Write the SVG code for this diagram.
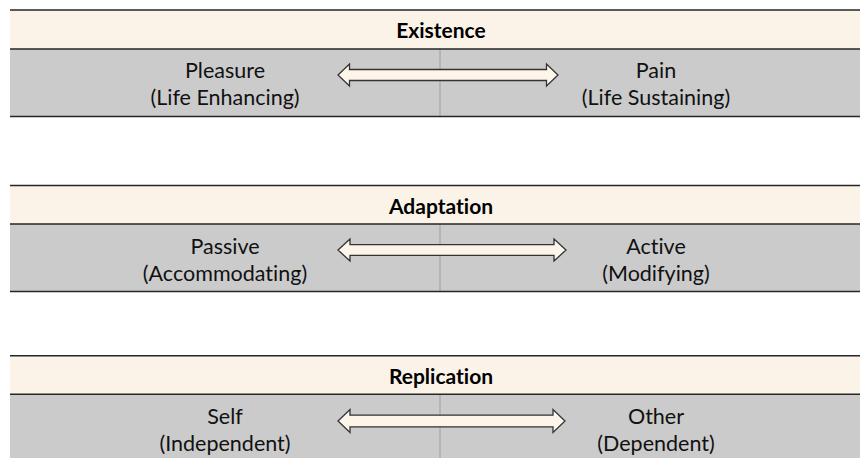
<svg xmlns="http://www.w3.org/2000/svg" width="860" height="458" viewBox="0 0 860 458">
  <style>
    .head { fill: #FCF3E8; }
    .body { fill: #CBCBCB; }
    .rule { stroke: #262626; stroke-width: 1.6; fill: none; }
    .split { stroke: #9E9E9E; stroke-width: 1; }
    .arrow { fill: #FDF5EA; stroke: #333333; stroke-width: 1.3; stroke-linejoin: miter; }
    text { font-family: Lato, "Liberation Sans", sans-serif; text-anchor: middle; font-variant-ligatures: none; }
    .title { font-weight: bold; font-size: 21px; fill: #000; }
    .label { font-size: 21.5px; fill: #111; }
  </style>

  <!-- Existence -->
  <g id="existence">
    <rect class="head" x="10" y="10" width="862" height="39"/>
    <rect class="body" x="10" y="49" width="862" height="67.5"/>
    <line class="split" x1="440" y1="49" x2="440" y2="116.5"/>
    <line class="rule" x1="10" y1="10" x2="872" y2="10"/>
    <line class="rule" x1="10" y1="49" x2="872" y2="49"/>
    <line class="rule" x1="10" y1="116.5" x2="872" y2="116.5"/>
    <text class="title" x="441" y="38">Existence</text>
    <text class="label" x="225" y="78">Pleasure</text>
    <text class="label" x="225" y="105">(Life Enhancing)</text>
    <text class="label" x="656" y="78">Pain</text>
    <text class="label" x="656" y="105">(Life Sustaining)</text>
  </g>

  <!-- Adaptation -->
  <g id="adaptation">
    <rect class="head" x="10" y="185.5" width="862" height="38.5"/>
    <rect class="body" x="10" y="224" width="862" height="67.5"/>
    <line class="split" x1="440" y1="224" x2="440" y2="291.5"/>
    <line class="rule" x1="10" y1="185.5" x2="872" y2="185.5"/>
    <line class="rule" x1="10" y1="224" x2="872" y2="224"/>
    <line class="rule" x1="10" y1="291.5" x2="872" y2="291.5"/>
    <text class="title" x="441" y="213.5">Adaptation</text>
    <text class="label" x="225" y="253.5">Passive</text>
    <text class="label" x="225" y="280.5">(Accommodating)</text>
    <text class="label" x="656" y="253.5">Active</text>
    <text class="label" x="656" y="280.5">(Modifying)</text>
  </g>

  <!-- Replication -->
  <g id="replication">
    <rect class="head" x="10" y="355.7" width="862" height="38.6"/>
    <rect class="body" x="10" y="394.3" width="862" height="70"/>
    <line class="split" x1="440" y1="394.3" x2="440" y2="464"/>
    <line class="rule" x1="10" y1="355.7" x2="872" y2="355.7"/>
    <line class="rule" x1="10" y1="394.3" x2="872" y2="394.3"/>
    <text class="title" x="441" y="384">Replication</text>
    <text class="label" x="225" y="424">Self</text>
    <text class="label" x="225" y="451">(Independent)</text>
    <text class="label" x="656" y="424">Other</text>
    <text class="label" x="656" y="451">(Dependent)</text>
  </g>

  <!-- double-headed block arrows -->
  <g id="connectors">
    <polygon class="arrow" points="338,75 349.5,64 349.5,69.5 546.5,69.5 546.5,64 558,75 546.5,86 546.5,80.5 349.5,80.5 349.5,86"/>
    <polygon class="arrow" points="338,250 350,239 350,244.7 554,244.7 554,239 566,250 554,261 554,255.3 350,255.3 350,261"/>
    <polygon class="arrow" points="338,421 350,409.5 350,415.2 553,415.2 553,409.5 565,421 553,432.5 553,426.8 350,426.8 350,432.5"/>
  </g>
</svg>
